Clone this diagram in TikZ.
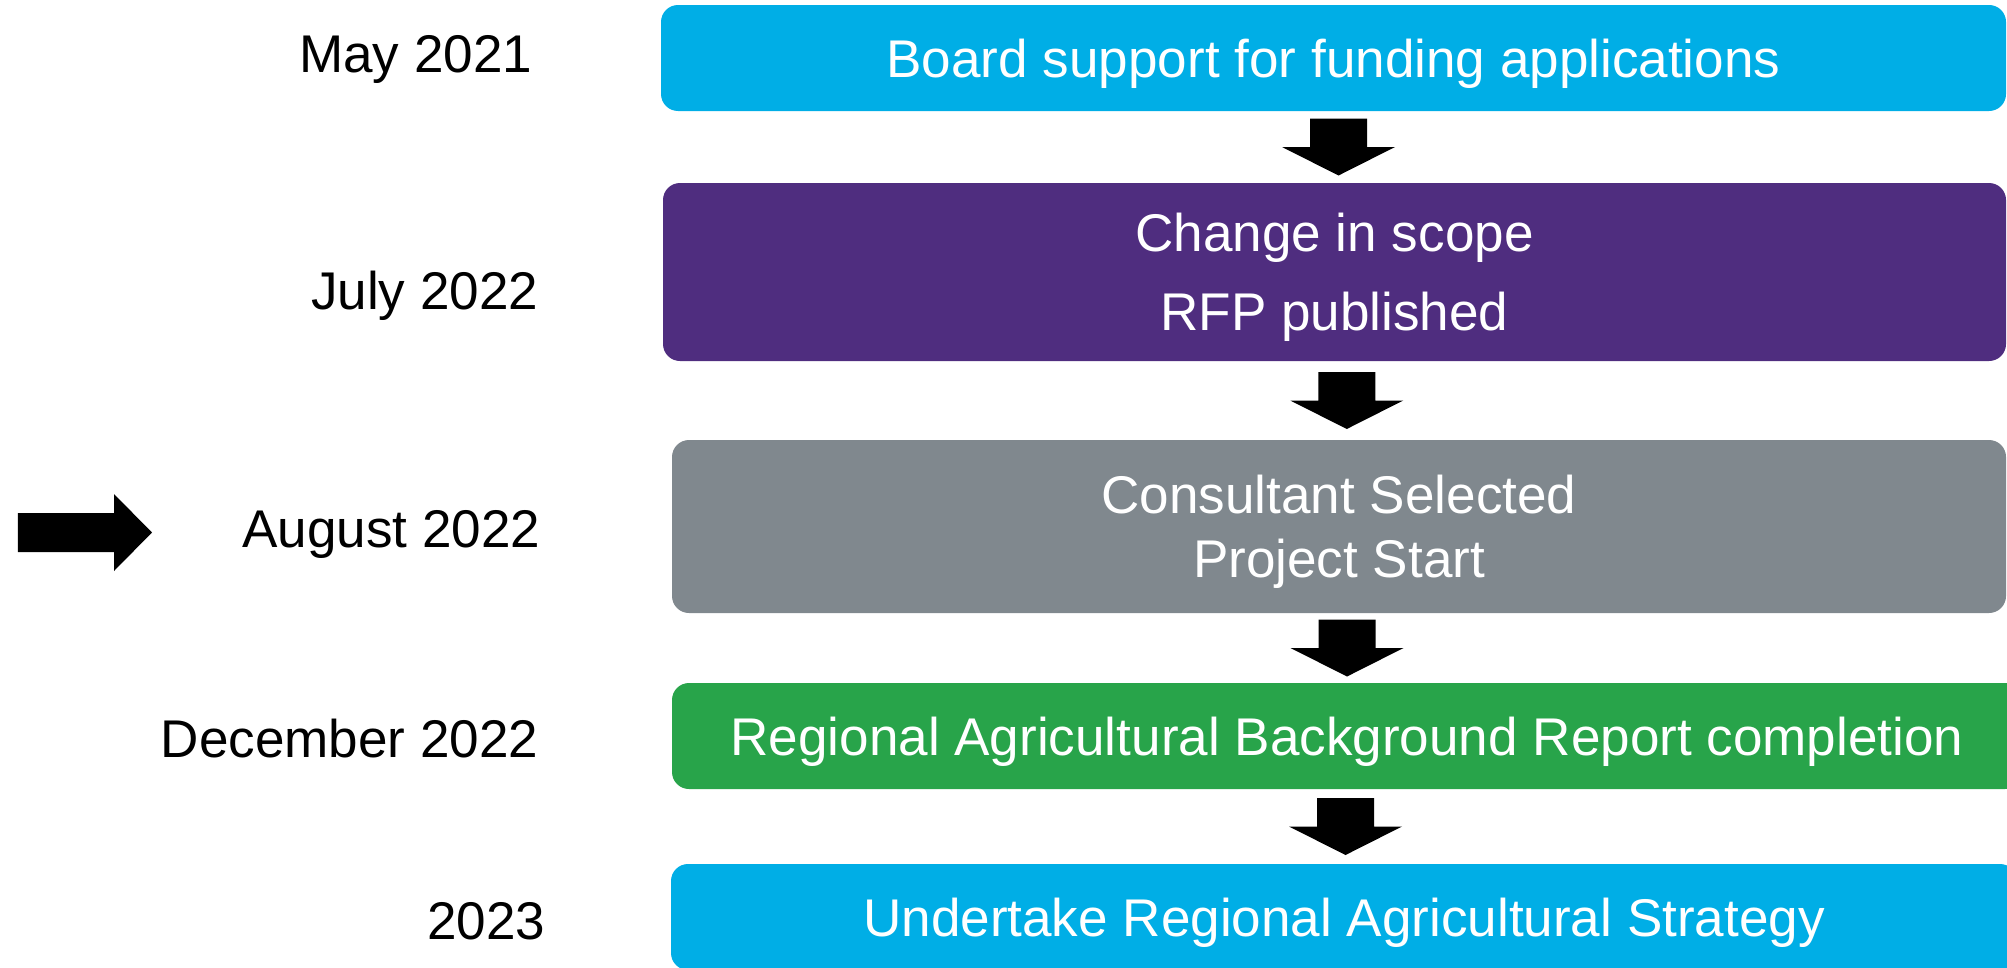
\documentclass[tikz,border=0pt]{standalone}
\usepackage{fontspec}
\setmainfont{Liberation Sans}
\usetikzlibrary{calc}

\definecolor{boxblue}{HTML}{00AEE6}
\definecolor{boxpurple}{HTML}{4F2D7F}
\definecolor{boxgray}{HTML}{80888E}
\definecolor{boxgreen}{HTML}{28A44A}

\begin{document}
\begin{tikzpicture}[
    box/.style={rounded corners=0.17cm, inner sep=0pt, text=white, align=center, font=\fontsize{15.1}{18}\selectfont, minimum height=1.06cm},
    oneline/.style={text height=0.38cm, text depth=0pt},
    date/.style={anchor=base east, inner sep=0pt, font=\fontsize{15.1}{18}\selectfont},
    downarrow/.pic={\fill (-0.285,0.285) -- (0.285,0.285) -- (0.285,0) -- (0.565,0) -- (0,-0.285) -- (-0.565,0) -- (-0.285,0) -- cycle;}
]
    % page size
    \useasboundingbox (0,0) rectangle (20.07,-9.67);
    \clip (0,0) rectangle (20.07,-9.67);

    \node (b1) at (13.335,-0.58) [box, oneline, fill=boxblue, minimum width=13.45cm] {Board support for funding applications};
    \node (b2) at (13.345,-2.72) [box, fill=boxpurple, minimum width=13.43cm, minimum height=1.78cm, font=\fontsize{15.1}{22.5}\selectfont, text height=1.17cm, text depth=0pt] {Change in scope\\RFP published};
    \node (b3) at (13.39,-5.265) [box, fill=boxgray, minimum width=13.34cm, minimum height=1.73cm, font=\fontsize{15.1}{18.2}\selectfont, text height=1.02cm, text depth=0pt] {Consultant Selected\\Project Start};
    \node (b4) at (13.47,-7.36) [box, oneline, fill=boxgreen, minimum width=13.5cm] {Regional Agricultural Background Report completion};
    \node (b5) at (13.44,-9.17) [box, oneline, fill=boxblue, minimum width=13.46cm] {Undertake Regional Agricultural Strategy};

    \node (d1) at (5.33,-0.72) [date] {May 2021};
    \node (d2) at (5.39,-3.09) [date] {July 2022};
    \node (d3) at (5.41,-5.47) [date] {August 2022};
    \node (d4) at (5.39,-7.57) [date] {December 2022};
    \node (d5) at (5.46,-9.39) [date] {2023};

    \pic at ($(b1.south)!0.5!(b2.north) + (0.045,0)$) {downarrow};
    \pic at ($(b2.south)!0.5!(b3.north) + (0.10,0)$) {downarrow};
    \pic at ($(b3.south)!0.5!(b4.north) + (0.04,0)$) {downarrow};
    \pic at ($(b4.south)!0.5!(b5.north)$) {downarrow};

    % current step marker
    \fill (0.18,-5.13) -- (1.14,-5.13) -- (1.14,-4.94) -- (1.52,-5.325) -- (1.14,-5.71) -- (1.14,-5.52) -- (0.18,-5.52) -- cycle;

\end{tikzpicture}
\end{document}
